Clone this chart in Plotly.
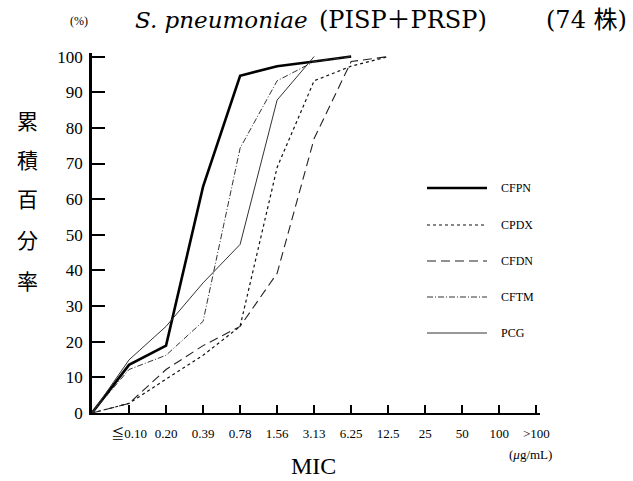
import plotly.graph_objects as go

# ---- data ----
tick_labels = ["≦0.10", "0.20", "0.39", "0.78", "1.56", "3.13", "6.25",
               "12.5", "25", "50", "100", ">100"]
tick_pos = list(range(1, 13))

series_names = ["CFPN", "CPDX", "CFDN", "CFTM", "PCG"]
cfpn = [0, 13.5, 18.9, 63.5, 94.6, 97.3, 98.6, 100]
cpdx = [0, 2.7, 9.5, 16.2, 24.3, 68.9, 93.2, 97.3, 100]
cfdn = [0, 2.7, 12.2, 18.9, 24.3, 39.2, 77.0, 98.6, 100]
cftm = [0, 12.2, 16.2, 25.7, 74.3, 93.2, 98.6, 100]
pcg = [0, 14.9, 24.3, 36.5, 47.3, 87.8, 100]
y_ticks = list(range(0, 101, 10))
y_title_chars = list("累積百分率")

series_values = [cfpn, cpdx, cfdn, cftm, pcg]
styles = [
    dict(color="black", width=2.6, dash="solid"),
    dict(color="#111111", width=1.2, dash="3px,3px"),
    dict(color="#222222", width=1.1, dash="9px,5px"),
    dict(color="#333333", width=1.0, dash="6px,2px,1px,2px"),
    dict(color="#333333", width=1.0, dash="solid"),
]

W, H = 633, 481
ML, MR, MT, MB = 92, 93, 53, 68
PW, PH = W - ML - MR, H - MT - MB

SERIF = "Liberation Serif, Noto Sans CJK JP"
WIDE = "DejaVu Serif, Noto Sans CJK JP"

fig = go.Figure()
for name, vals, st in zip(series_names, series_values, styles):
    fig.add_trace(go.Scatter(x=list(range(len(vals))), y=vals, mode="lines",
                             name=name, line=st, showlegend=False))


def px_x(p):
    return (p - ML) / PW


def px_y(p):
    return (H - MB - p) / PH


shapes = []
annotations = []


def note(text, x, y, size, xanchor="center", family=SERIF):
    annotations.append(dict(text=text, xref="paper", yref="paper", x=px_x(x), y=px_y(y),
                            xanchor=xanchor, yanchor="middle", showarrow=False,
                            font=dict(family=family, size=size, color="black")))


# manual legend
leg_y = [188, 225, 261, 297, 333]
for name, st, yy in zip(series_names, styles, leg_y):
    shapes.append(dict(type="line", xref="paper", yref="paper",
                       x0=px_x(427), x1=px_x(487), y0=px_y(yy), y1=px_y(yy),
                       line=st))
    note(name, 499, yy, 12, xanchor="left")

# vertical y-axis title
for ch, yy in zip(y_title_chars, [120, 159, 198, 239, 280]):
    note(ch, 27, yy, 21, family="Noto Sans CJK JP")

# titles
note("<i>S. pneumoniae</i>", 310, 20, 23, xanchor="right", family=WIDE)
note("(PISP＋PRSP)", 317, 20, 24, xanchor="left", family=WIDE)
note("(74 株)", 629, 20, 24, xanchor="right", family=WIDE)
note("(%)", 79, 21, 12)
note("MIC", 313, 466, 24)
note("(<i>μ</i>g/mL)", 507, 454, 13, xanchor="left")

fig.update_layout(
    width=W, height=H,
    margin=dict(l=ML, r=MR, t=MT, b=MB, pad=0),
    paper_bgcolor="white", plot_bgcolor="white",
    showlegend=False,
    shapes=shapes, annotations=annotations,
    xaxis=dict(range=[0, 12.1], tickvals=tick_pos, ticktext=tick_labels,
               showgrid=False, zeroline=False, showline=True, linecolor="black",
               linewidth=2, ticks="inside", ticklen=8, tickwidth=1.5, tickcolor="black",
               ticklabelstandoff=7,
               tickfont=dict(family=SERIF, size=13, color="black")),
    yaxis=dict(range=[0, 101], tickvals=y_ticks,
               showgrid=False, zeroline=False, showline=True, linecolor="black",
               linewidth=2.5, ticks="inside", ticklen=13, tickwidth=2, tickcolor="black",
               ticklabelstandoff=3,
               tickfont=dict(family=SERIF, size=17, color="black")),
)

fig.write_html("out.html")
